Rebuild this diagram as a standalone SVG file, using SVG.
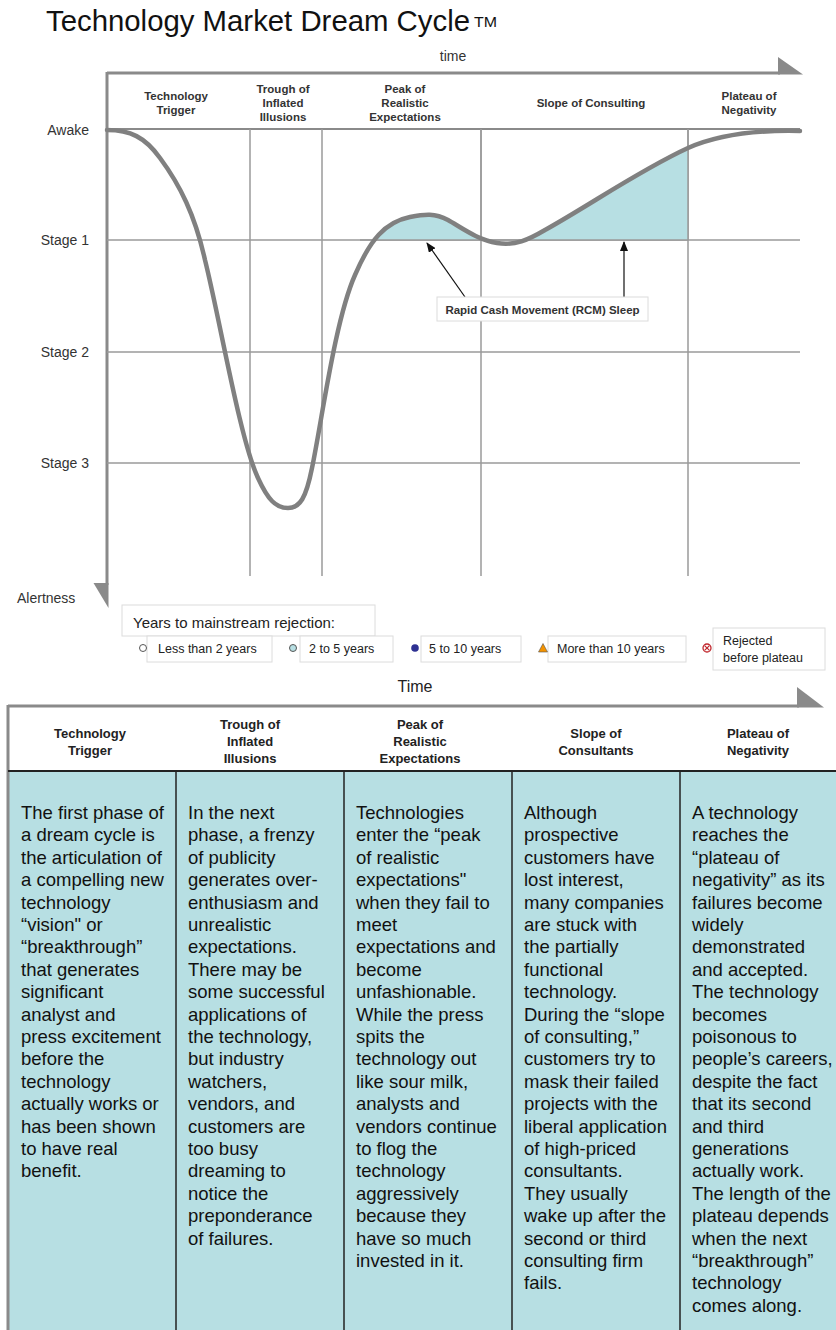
<svg xmlns="http://www.w3.org/2000/svg" width="836" height="1330" viewBox="0 0 836 1330">
<style>
text{font-family:"Liberation Sans",Arial,sans-serif}
.title{font-size:29px;fill:#111}
.ax{font-size:14px;fill:#333}
.hd{font-size:11.5px;font-weight:bold;fill:#333;text-anchor:middle}
.th{font-size:13px;font-weight:bold;fill:#222;text-anchor:middle}
.grid{stroke:#9a9a9a;stroke-width:1.5;fill:none}
.axis{stroke:#8a8a8a;stroke-width:3;fill:none}
.lg{font-size:12.5px;fill:#222}
.lbox{fill:#fff;stroke:#dcdcdc;stroke-width:1}
.body{font-size:18.5px;fill:#111}
.sep{stroke:#222;stroke-width:1.5}
</style>
<defs>
<marker id="ah" markerWidth="10" markerHeight="8" refX="9" refY="4" orient="auto" markerUnits="userSpaceOnUse">
<path d="M0,0 L10,4 L0,8 Z" fill="#111"/>
</marker>
<clipPath id="fillclip"><rect x="360" y="100" width="328" height="140"/></clipPath>
</defs>
<rect width="836" height="1330" fill="#fff"/>

<g id="title">
<text class="title" x="46" y="31" textLength="424" lengthAdjust="spacingAndGlyphs">Technology Market Dream Cycle</text>
<text x="474" y="27" style="font-size:14px;fill:#111" textLength="23" lengthAdjust="spacingAndGlyphs">TM</text>
</g>

<g id="chart-frame">
<text class="ax" x="453" y="61" text-anchor="middle">time</text>
<line class="axis" x1="107" y1="73" x2="780" y2="73"/>
<polygon points="778,57 778,74.5 803,74.5" fill="#8a8a8a"/>
<line class="axis" x1="107" y1="72" x2="107" y2="585"/>
<polygon points="93.5,583 108.5,583 108.5,608" fill="#8a8a8a"/>
<line x1="107" y1="129" x2="800" y2="129" stroke="#8a8a8a" stroke-width="2"/>
<line class="grid" x1="107" y1="240" x2="800" y2="240"/>
<line class="grid" x1="107" y1="352" x2="800" y2="352"/>
<line class="grid" x1="107" y1="463" x2="800" y2="463"/>
<line class="grid" x1="250" y1="129" x2="250" y2="576"/>
<line class="grid" x1="322" y1="129" x2="322" y2="576"/>
<line class="grid" x1="481" y1="129" x2="481" y2="576"/>
<line class="grid" x1="688" y1="129" x2="688" y2="576"/>
<text class="ax" x="89" y="135" text-anchor="end">Awake</text>
<text class="ax" x="89" y="245" text-anchor="end">Stage 1</text>
<text class="ax" x="89" y="357" text-anchor="end">Stage 2</text>
<text class="ax" x="89" y="468" text-anchor="end">Stage 3</text>
<text class="ax" x="17" y="603">Alertness</text>
</g>

<g id="phase-headers">
<text class="hd" x="176" y="100">Technology</text>
<text class="hd" x="176" y="114">Trigger</text>
<text class="hd" x="283" y="93">Trough of</text>
<text class="hd" x="283" y="107">Inflated</text>
<text class="hd" x="283" y="121">Illusions</text>
<text class="hd" x="405" y="93">Peak of</text>
<text class="hd" x="405" y="107">Realistic</text>
<text class="hd" x="405" y="121">Expectations</text>
<text class="hd" x="591" y="107">Slope of Consulting</text>
<text class="hd" x="749" y="100">Plateau of</text>
<text class="hd" x="749" y="114">Negativity</text>
</g>

<g id="rcm-fill">
<path clip-path="url(#fillclip)" fill="#b7dfe3" d="M107,130 C130,130 145,137 160,158 C180,185 195,215 205,260 C220,320 240,440 258,478 C268,500 276,508 288,508 C300,508 306,498 312,468 C322,420 335,320 355,275 C370,240 385,222 410,217 C425,214 435,213 448,220 C462,228 478,240 497,243 C515,246 528,240 545,230 C590,205 640,170 688,148 C720,134 760,130 800,131 L800,600 L107,600 Z"/>
<line x1="360" y1="240" x2="688" y2="240" stroke="#9a9a9a" stroke-width="1.5"/>
<line x1="688" y1="129" x2="688" y2="240" stroke="#9a9a9a" stroke-width="1.5"/>
<line x1="481" y1="129" x2="481" y2="240" stroke="#9a9a9a" stroke-width="1.5"/>
</g>

<g id="curve">
<path fill="none" stroke="#808080" stroke-width="4.5" stroke-linecap="round" d="M107,130 C130,130 145,137 160,158 C180,185 195,215 205,260 C220,320 240,440 258,478 C268,500 276,508 288,508 C300,508 306,498 312,468 C322,420 335,320 355,275 C370,240 385,222 410,217 C425,214 435,213 448,220 C462,228 478,240 497,243 C515,246 528,240 545,230 C590,205 640,170 688,148 C720,134 760,130 800,131"/>
</g>

<g id="connectors">
<line x1="465" y1="297" x2="427" y2="243" stroke="#111" stroke-width="1.2" marker-end="url(#ah)"/>
<line x1="624" y1="297" x2="624" y2="242" stroke="#111" stroke-width="1.2" marker-end="url(#ah)"/>
</g>

<g id="rcm-label">
<rect x="437" y="297" width="211" height="24" fill="#fff" stroke="#dcdcdc"/>
<text x="542.5" y="313.5" text-anchor="middle" style="font-size:11.5px;font-weight:bold;fill:#333">Rapid Cash Movement (RCM) Sleep</text>
</g>

<g id="legend">
<rect class="lbox" x="122" y="605" width="253" height="31"/>
<text x="133" y="628" style="font-size:15px;fill:#222">Years to mainstream rejection:</text>
<rect class="lbox" x="147" y="636" width="125" height="26"/>
<circle cx="143" cy="648" r="3.5" fill="#fff" stroke="#555" stroke-width="1"/>
<text class="lg" x="158" y="653">Less than 2 years</text>
<rect class="lbox" x="300" y="636" width="93" height="26"/>
<circle cx="293" cy="648" r="3.5" fill="#b7dfe3" stroke="#555" stroke-width="1"/>
<text class="lg" x="309" y="653">2 to 5 years</text>
<rect class="lbox" x="421" y="636" width="100" height="26"/>
<circle cx="415" cy="648" r="3.8" fill="#2e3192"/>
<text class="lg" x="429" y="653">5 to 10 years</text>
<rect class="lbox" x="548" y="636" width="138" height="26"/>
<polygon points="543,643.5 547.5,652 538.5,652" fill="#f39200" stroke="#555" stroke-width="0.6"/>
<text class="lg" x="557" y="653">More than 10 years</text>
<rect class="lbox" x="713" y="628" width="112" height="42"/>
<circle cx="707" cy="648" r="4" fill="#fff" stroke="#c1272d" stroke-width="1.3"/>
<path d="M704.6,645.6 L709.4,650.4 M709.4,645.6 L704.6,650.4" stroke="#c1272d" stroke-width="1.2"/>
<text class="lg" x="723" y="645">Rejected</text>
<text class="lg" x="723" y="662">before plateau</text>
</g>

<g id="table-frame">
<text x="415" y="692" text-anchor="middle" style="font-size:16px;fill:#222">Time</text>
<rect x="9" y="772" width="827" height="558" fill="#b7dfe3"/>
<line x1="8" y1="706" x2="799" y2="706" stroke="#8a8a8a" stroke-width="3"/>
<polygon points="797,687 797,707.5 824,707.5" fill="#8a8a8a"/>
<line x1="8" y1="705" x2="8" y2="1330" stroke="#8a8a8a" stroke-width="3"/>
<line x1="8" y1="771" x2="836" y2="771" stroke="#222" stroke-width="2"/>
<line class="sep" x1="176" y1="771" x2="176" y2="1330"/>
<line class="sep" x1="344" y1="771" x2="344" y2="1330"/>
<line class="sep" x1="512" y1="771" x2="512" y2="1330"/>
<line class="sep" x1="680" y1="771" x2="680" y2="1330"/>
</g>

<g id="col-trigger">
<text class="th" x="90" y="738">Technology</text>
<text class="th" x="90" y="755">Trigger</text>
<text class="body" x="21" y="819">
<tspan x="21" dy="0">The first phase of</tspan>
<tspan x="21" dy="22.4">a dream cycle is</tspan>
<tspan x="21" dy="22.4">the articulation of</tspan>
<tspan x="21" dy="22.4">a compelling new</tspan>
<tspan x="21" dy="22.4">technology</tspan>
<tspan x="21" dy="22.4">“vision" or</tspan>
<tspan x="21" dy="22.4">“breakthrough”</tspan>
<tspan x="21" dy="22.4">that generates</tspan>
<tspan x="21" dy="22.4">significant</tspan>
<tspan x="21" dy="22.4">analyst and</tspan>
<tspan x="21" dy="22.4">press excitement</tspan>
<tspan x="21" dy="22.4">before the</tspan>
<tspan x="21" dy="22.4">technology</tspan>
<tspan x="21" dy="22.4">actually works or</tspan>
<tspan x="21" dy="22.4">has been shown</tspan>
<tspan x="21" dy="22.4">to have real</tspan>
<tspan x="21" dy="22.4">benefit.</tspan>
</text>
</g>

<g id="col-trough">
<text class="th" x="250" y="729">Trough of</text>
<text class="th" x="250" y="746">Inflated</text>
<text class="th" x="250" y="763">Illusions</text>
<text class="body" x="188" y="819">
<tspan x="188" dy="0">In the next</tspan>
<tspan x="188" dy="22.4">phase, a frenzy</tspan>
<tspan x="188" dy="22.4">of publicity</tspan>
<tspan x="188" dy="22.4">generates over-</tspan>
<tspan x="188" dy="22.4">enthusiasm and</tspan>
<tspan x="188" dy="22.4">unrealistic</tspan>
<tspan x="188" dy="22.4">expectations.</tspan>
<tspan x="188" dy="22.4">There may be</tspan>
<tspan x="188" dy="22.4">some successful</tspan>
<tspan x="188" dy="22.4">applications of</tspan>
<tspan x="188" dy="22.4">the technology,</tspan>
<tspan x="188" dy="22.4">but industry</tspan>
<tspan x="188" dy="22.4">watchers,</tspan>
<tspan x="188" dy="22.4">vendors, and</tspan>
<tspan x="188" dy="22.4">customers are</tspan>
<tspan x="188" dy="22.4">too busy</tspan>
<tspan x="188" dy="22.4">dreaming to</tspan>
<tspan x="188" dy="22.4">notice the</tspan>
<tspan x="188" dy="22.4">preponderance</tspan>
<tspan x="188" dy="22.4">of failures.</tspan>
</text>
</g>

<g id="col-peak">
<text class="th" x="420" y="729">Peak of</text>
<text class="th" x="420" y="746">Realistic</text>
<text class="th" x="420" y="763">Expectations</text>
<text class="body" x="356" y="819">
<tspan x="356" dy="0">Technologies</tspan>
<tspan x="356" dy="22.4">enter the “peak</tspan>
<tspan x="356" dy="22.4">of realistic</tspan>
<tspan x="356" dy="22.4">expectations"</tspan>
<tspan x="356" dy="22.4">when they fail to</tspan>
<tspan x="356" dy="22.4">meet</tspan>
<tspan x="356" dy="22.4">expectations and</tspan>
<tspan x="356" dy="22.4">become</tspan>
<tspan x="356" dy="22.4">unfashionable.</tspan>
<tspan x="356" dy="22.4">While the press</tspan>
<tspan x="356" dy="22.4">spits the</tspan>
<tspan x="356" dy="22.4">technology out</tspan>
<tspan x="356" dy="22.4">like sour milk,</tspan>
<tspan x="356" dy="22.4">analysts and</tspan>
<tspan x="356" dy="22.4">vendors continue</tspan>
<tspan x="356" dy="22.4">to flog the</tspan>
<tspan x="356" dy="22.4">technology</tspan>
<tspan x="356" dy="22.4">aggressively</tspan>
<tspan x="356" dy="22.4">because they</tspan>
<tspan x="356" dy="22.4">have so much</tspan>
<tspan x="356" dy="22.4">invested in it.</tspan>
</text>
</g>

<g id="col-slope">
<text class="th" x="596" y="738">Slope of</text>
<text class="th" x="596" y="755">Consultants</text>
<text class="body" x="524" y="819">
<tspan x="524" dy="0">Although</tspan>
<tspan x="524" dy="22.4">prospective</tspan>
<tspan x="524" dy="22.4">customers have</tspan>
<tspan x="524" dy="22.4">lost interest,</tspan>
<tspan x="524" dy="22.4">many companies</tspan>
<tspan x="524" dy="22.4">are stuck with</tspan>
<tspan x="524" dy="22.4">the partially</tspan>
<tspan x="524" dy="22.4">functional</tspan>
<tspan x="524" dy="22.4">technology.</tspan>
<tspan x="524" dy="22.4">During the “slope</tspan>
<tspan x="524" dy="22.4">of consulting,”</tspan>
<tspan x="524" dy="22.4">customers try to</tspan>
<tspan x="524" dy="22.4">mask their failed</tspan>
<tspan x="524" dy="22.4">projects with the</tspan>
<tspan x="524" dy="22.4">liberal application</tspan>
<tspan x="524" dy="22.4">of high-priced</tspan>
<tspan x="524" dy="22.4">consultants.</tspan>
<tspan x="524" dy="22.4">They usually</tspan>
<tspan x="524" dy="22.4">wake up after the</tspan>
<tspan x="524" dy="22.4">second or third</tspan>
<tspan x="524" dy="22.4">consulting firm</tspan>
<tspan x="524" dy="22.4">fails.</tspan>
</text>
</g>

<g id="col-plateau">
<text class="th" x="758" y="738">Plateau of</text>
<text class="th" x="758" y="755">Negativity</text>
<text class="body" x="692" y="819">
<tspan x="692" dy="0">A technology</tspan>
<tspan x="692" dy="22.4">reaches the</tspan>
<tspan x="692" dy="22.4">“plateau of</tspan>
<tspan x="692" dy="22.4">negativity” as its</tspan>
<tspan x="692" dy="22.4">failures become</tspan>
<tspan x="692" dy="22.4">widely</tspan>
<tspan x="692" dy="22.4">demonstrated</tspan>
<tspan x="692" dy="22.4">and accepted.</tspan>
<tspan x="692" dy="22.4">The technology</tspan>
<tspan x="692" dy="22.4">becomes</tspan>
<tspan x="692" dy="22.4">poisonous to</tspan>
<tspan x="692" dy="22.4">people’s careers,</tspan>
<tspan x="692" dy="22.4">despite the fact</tspan>
<tspan x="692" dy="22.4">that its second</tspan>
<tspan x="692" dy="22.4">and third</tspan>
<tspan x="692" dy="22.4">generations</tspan>
<tspan x="692" dy="22.4">actually work.</tspan>
<tspan x="692" dy="22.4">The length of the</tspan>
<tspan x="692" dy="22.4">plateau depends</tspan>
<tspan x="692" dy="22.4">when the next</tspan>
<tspan x="692" dy="22.4">“breakthrough”</tspan>
<tspan x="692" dy="22.4">technology</tspan>
<tspan x="692" dy="22.4">comes along.</tspan>
</text>
</g>
</svg>
